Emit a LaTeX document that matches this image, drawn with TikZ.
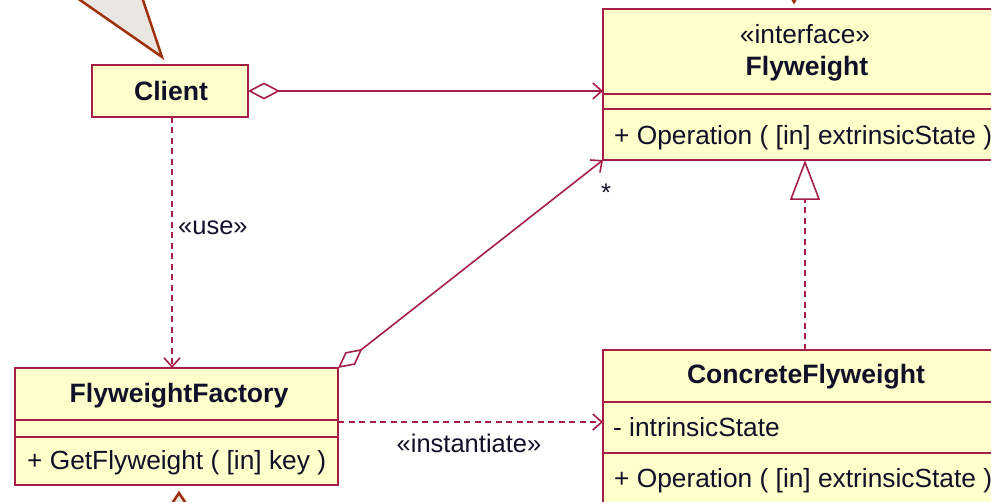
\documentclass[tikz,border=0pt]{standalone}
\usepackage{fontspec}
\setmainfont{Liberation Sans}
\usetikzlibrary{arrows.meta,calc}
\definecolor{umlline}{RGB}{165,30,70}
\definecolor{umlfill}{RGB}{255,255,204}
\definecolor{umltext}{RGB}{16,16,40}
\definecolor{notefill}{RGB}{234,230,225}
\definecolor{notedraw}{RGB}{160,48,10}
\begin{document}
\begin{tikzpicture}[x=1pt,y=-1pt,
  classbox/.style={draw=umlline, fill=umlfill, line width=1.6pt, rectangle,
    inner sep=0pt, outer sep=0pt, anchor=north west},
  txt/.style={inner sep=0pt, text=umltext, font=\fontsize{25.5}{30}\selectfont},
  title/.style={txt, font=\fontsize{26.6}{30}\selectfont\bfseries, anchor=base},
  member/.style={txt, font=\fontsize{26.3}{30}\selectfont, anchor=base west},
  conn/.style={draw=umlline, line width=1.6pt},
  dep/.style={conn, dash pattern=on 6pt off 4.5pt},
  openv/.style={-{Straight Barb[length=9pt,width=16pt]}},
  sep/.style={draw=umlline, line width=1.6pt},
  note/.style={draw=notedraw, fill=notefill, line width=2.5pt, line join=miter}
]
\useasboundingbox (0,0) rectangle (991,502);
\clip (0,0) rectangle (991,502);

% note pointers coming in from outside the frame
\filldraw[note] (72.8,-5) -- (162,57) -- (141.3,-5) -- cycle;
\filldraw[note] (179,493) -- (167,511) -- (191,511) -- cycle;
\filldraw[note] (794,2) -- (788,-8) -- (800,-8) -- cycle;

% class boxes
\node[classbox, minimum width=404pt, minimum height=151pt] (fw) at (603,9) {};
\node[classbox, minimum width=404pt, minimum height=180pt] (cf) at (603,350) {};
\node[classbox, minimum width=323pt, minimum height=117pt] (ff) at (15,368) {};
\node[classbox, minimum width=156pt, minimum height=52pt] (client) at (92,65) {};

% compartment separators
\draw[sep] ($(fw.north west)+(0,85)$) -- ($(fw.north east)+(0,85)$);
\draw[sep] ($(fw.north west)+(0,100)$) -- ($(fw.north east)+(0,100)$);
\draw[sep] ($(cf.north west)+(0,52)$) -- ($(cf.north east)+(0,52)$);
\draw[sep] ($(cf.north west)+(0,103)$) -- ($(cf.north east)+(0,103)$);
\draw[sep] ($(ff.north west)+(0,52)$) -- ($(ff.north east)+(0,52)$);
\draw[sep] ($(ff.north west)+(0,69)$) -- ($(ff.north east)+(0,69)$);

% texts
\node[txt, font=\fontsize{26.3}{30}\selectfont, anchor=base] (fwstereo) at (805,43.5) {«interface»};
\node[title] (fwname) at (807,76) {Flyweight};
\node[member] (fwop) at (614,144.5) {+ Operation ( [in] extrinsicState )};
\node[title] (clientname) at (171,100.7) {Client};
\node[title] (ffname) at (179,403) {FlyweightFactory};
\node[member] (ffop) at (27,470) {+ GetFlyweight ( [in] key )};
\node[title] (cfname) at (806,384) {ConcreteFlyweight};
\node[member] (cfattr) at (613,437) {- intrinsicState};
\node[member] (cfop) at (614,487) {+ Operation ( [in] extrinsicState )};

% connectors
\draw[conn, {Diamond[open,length=32pt,width=17pt]}-{Straight Barb[length=9pt,width=16pt]}]
  (client.east) -- (client.east -| fw.west);

\coordinate (useA) at ($(client.south)+(2,0)$);
\draw[dep, openv] (useA) -- (useA |- ff.north);
\node[txt, anchor=base west] (uselabel) at (178,235) {«use»};

\draw[conn, {Diamond[open,length=31pt,width=16pt]}-{Straight Barb[length=9pt,width=16pt]}]
  (ff.north east) -- (fw.south west);
\node[txt, anchor=base] (mult) at (606,202) {*};

\draw[dep, -{Triangle[open,length=40pt,width=30pt]}] (cf.north) -- (fw.south);

\coordinate (instA) at ($(ff.east)+(0,-4.5)$);
\draw[dep, openv] (instA) -- (instA -| cf.west);
\node[txt, anchor=base] (instlabel) at (469,453) {«instantiate»};
\end{tikzpicture}
\end{document}
